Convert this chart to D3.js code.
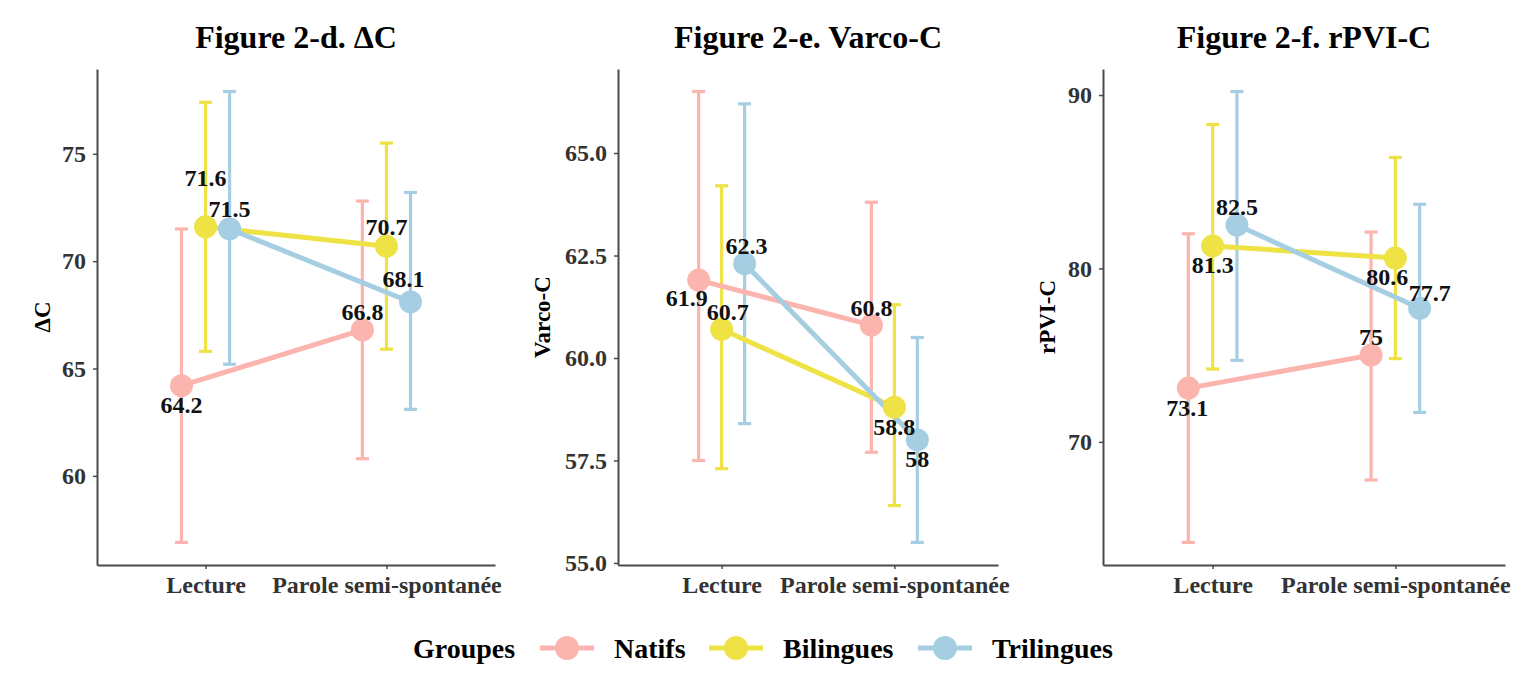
<!DOCTYPE html>
<html><head><meta charset="utf-8">
<script src="https://cdn.jsdelivr.net/npm/d3@7"></script>
<style>
body{margin:0;background:#fff}
svg text{font-family:"Liberation Serif","Times New Roman",serif;font-weight:bold}
</style>
</head><body><svg id="c" width="1536" height="690"></svg>
<script>
// ---- data ----
const groups = ["Natifs", "Bilingues", "Trilingues"];
const conditions = ["Lecture", "Parole semi-spontanée"];
const panelTitles = ["Figure 2-d. ΔC", "Figure 2-e. Varco-C", "Figure 2-f. rPVI-C"];
const yLabels = ["ΔC", "Varco-C", "rPVI-C"];
const legendTitle = "Groupes";

// [group][condition]
const meanDeltaC = [[64.2, 66.8], [71.6, 70.7], [71.5, 68.1]];
const lowDeltaC  = [[56.9, 60.8], [65.8, 65.9], [65.2, 63.1]];
const highDeltaC = [[71.5, 72.8], [77.4, 75.5], [77.9, 73.2]];

const meanVarco = [[61.9, 60.8], [60.7, 58.8], [62.3, 58]];
const lowVarco  = [[57.5, 57.7], [57.3, 56.4], [58.4, 55.5]];
const highVarco = [[66.5, 63.8], [64.2, 61.3], [66.2, 60.5]];

const meanRpvi = [[73.1, 75], [81.3, 80.6], [82.5, 77.7]];
const lowRpvi  = [[64.2, 67.8], [74.2, 74.8], [74.7, 71.7]];
const highRpvi = [[82.0, 82.1], [88.3, 86.4], [90.2, 83.7]];

const yTicksDeltaC = [60, 65, 70, 75];
const yTicksVarco = [55, 57.5, 60, 62.5, 65];
const yTicksRpvi = [70, 80, 90];

// ---- styles / positions ----
const colors = ["#FBB4AE", "#EEE244", "#A6CEE3"];
const dodge = [-0.133, 0, 0.133];
// label nudges in px [panel][group][condition] -> [dx, dy]
const labelNudges = [
  [[[0, 19], [0, -18]], [[0, -49], [0, -19]], [[0, -20], [-7, -23]]],
  [[[-12, 18], [0, -17]], [[6, -17], [0, 20]], [[2, -18], [0, 19]]],
  [[[-1, 20], [0, -18]], [[0, 19], [-8, 19]], [[0, -18], [10, -15]]]
];
const panelX = [[97, 495], [618, 998], [1103, 1505]];
const yAxisTitleX = [42, 542, 1047];
const panelTop = 69, panelBottom = 565;

const panels = [
  {mean: meanDeltaC, low: lowDeltaC, high: highDeltaC, ticks: yTicksDeltaC, fmt: d3.format("d")},
  {mean: meanVarco, low: lowVarco, high: highVarco, ticks: yTicksVarco, fmt: d3.format(".1f")},
  {mean: meanRpvi, low: lowRpvi, high: highRpvi, ticks: yTicksRpvi, fmt: d3.format("d")}
];

const svg = d3.select("#c");
const axisColor = "#4a4a4a";

panels.forEach((p, pi) => {
  const [x0, x1] = panelX[pi];
  const g = svg.append("g");
  const allVals = p.low.flat().concat(p.high.flat());
  const [mn, mx] = d3.extent(allVals);
  const pad = (mx - mn) * 0.05;
  const y = d3.scaleLinear().domain([mn - pad, mx + pad]).range([panelBottom, panelTop]);
  const x = d3.scalePoint().domain(conditions).range([x0, x1]).padding(0.6);
  const step = x.step();
  const px = (gi, ci) => x(conditions[ci]) + dodge[gi] * step;

  // axes
  const ya = g.append("g").attr("transform", `translate(${x0},0)`)
    .call(d3.axisLeft(y).tickValues(p.ticks).tickFormat(p.fmt).tickSize(4).tickSizeOuter(0).tickPadding(7));
  const xa = g.append("g").attr("transform", `translate(0,${panelBottom})`)
    .call(d3.axisBottom(x).tickSize(4).tickSizeOuter(0).tickPadding(4));
  [ya, xa].forEach(a => {
    a.select(".domain").attr("stroke", axisColor).attr("stroke-width", 2);
    a.selectAll(".tick line").attr("stroke", axisColor).attr("stroke-width", 1.5);
    a.selectAll(".tick text").attr("fill", "#333").style("font-size", "24px");
  });
  xa.selectAll(".tick text").attr("dy", "0.85em");

  // title
  g.append("text").attr("x", (x0 + x1) / 2).attr("y", 48).attr("text-anchor", "middle")
    .style("font-size", "32px").attr("fill", "#000").text(panelTitles[pi]);
  // y title
  g.append("text").attr("transform", `translate(${yAxisTitleX[pi]},${(panelTop + panelBottom) / 2}) rotate(-90)`)
    .attr("text-anchor", "middle").attr("dominant-baseline", "central")
    .style("font-size", "23px").attr("fill", "#000").text(yLabels[pi]);

  // error bars
  groups.forEach((grp, gi) => {
    conditions.forEach((c, ci) => {
      const cx = px(gi, ci);
      const eg = g.append("g").attr("stroke", colors[gi]).attr("stroke-width", 3.2);
      eg.append("line").attr("x1", cx).attr("x2", cx).attr("y1", y(p.low[gi][ci])).attr("y2", y(p.high[gi][ci]));
      eg.append("line").attr("x1", cx - 6.5).attr("x2", cx + 6.5).attr("y1", y(p.low[gi][ci])).attr("y2", y(p.low[gi][ci]));
      eg.append("line").attr("x1", cx - 6.5).attr("x2", cx + 6.5).attr("y1", y(p.high[gi][ci])).attr("y2", y(p.high[gi][ci]));
    });
  });
  // lines
  const line = d3.line();
  groups.forEach((grp, gi) => {
    g.append("path").attr("d", line(conditions.map((c, ci) => [px(gi, ci), y(p.mean[gi][ci])])))
      .attr("fill", "none").attr("stroke", colors[gi]).attr("stroke-width", 5);
  });
  // points
  groups.forEach((grp, gi) => {
    conditions.forEach((c, ci) => {
      g.append("circle").attr("cx", px(gi, ci)).attr("cy", y(p.mean[gi][ci])).attr("r", 11.5).attr("fill", colors[gi]);
    });
  });
  // labels
  groups.forEach((grp, gi) => {
    conditions.forEach((c, ci) => {
      const [dx, dy] = labelNudges[pi][gi][ci];
      g.append("text").attr("x", px(gi, ci) + dx).attr("y", y(p.mean[gi][ci]) + dy)
        .attr("text-anchor", "middle").attr("dominant-baseline", "central")
        .style("font-size", "24px").attr("fill", "#111").text(String(p.mean[gi][ci]));
    });
  });
});

// legend
const legY = 648;
const lg = svg.append("g");
lg.append("text").attr("x", 413).attr("y", legY).attr("dominant-baseline", "central")
  .style("font-size", "28px").attr("fill", "#000").text(legendTitle);
const keyCx = [567, 736, 945];
const keyTx = [614, 783, 992];
groups.forEach((grp, gi) => {
  lg.append("line").attr("x1", keyCx[gi] - 27).attr("x2", keyCx[gi] + 27).attr("y1", legY).attr("y2", legY)
    .attr("stroke", colors[gi]).attr("stroke-width", 5);
  lg.append("circle").attr("cx", keyCx[gi]).attr("cy", legY).attr("r", 12).attr("fill", colors[gi]);
  lg.append("text").attr("x", keyTx[gi]).attr("y", legY).attr("dominant-baseline", "central")
    .style("font-size", "28px").attr("fill", "#000").text(grp);
});
</script></body></html>
